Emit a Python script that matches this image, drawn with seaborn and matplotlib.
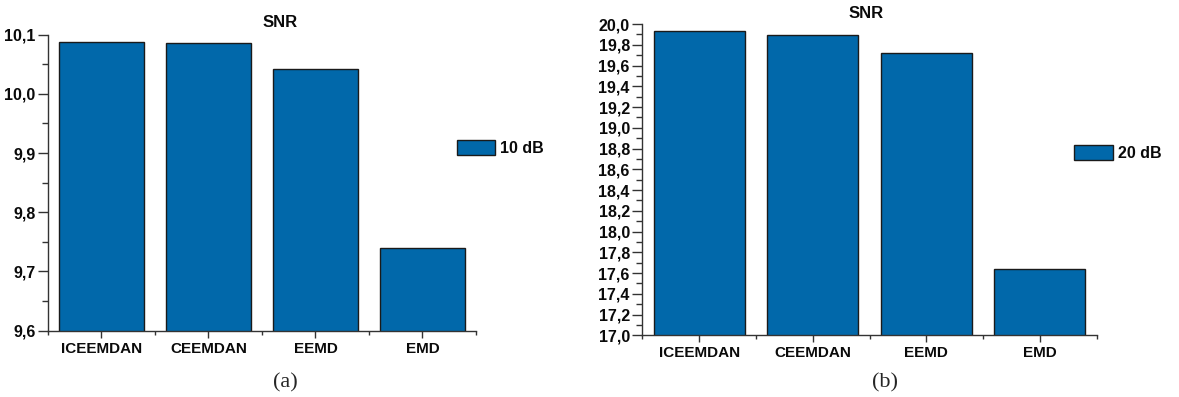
import matplotlib
matplotlib.use("Agg")
import matplotlib.pyplot as plt
from matplotlib.ticker import MultipleLocator, FuncFormatter, FixedLocator
import seaborn as sns
import pandas as pd

# Denoising results: output SNR per decomposition method
methods = ["ICEEMDAN", "CEEMDAN", "EEMD", "EMD"]
snr_10db = [10.087, 10.085, 10.041, 9.740]
snr_20db = [19.935, 19.894, 19.718, 17.637]
noise_labels = ["10 dB", "20 dB"]
panel_tags = ["(a)", "(b)"]

sns.set_theme(style="white")
plt.rcParams["font.family"] = ["Liberation Sans", "DejaVu Sans"]

BAR_COLOR = "#0168AA"
EDGE = "#1a1a1a"
AXIS_COLOR = "#333333"
TEXT = "#0a0a0a"

fig = plt.figure(figsize=(11.79, 3.97), dpi=100)
ax_a = fig.add_axes([0.0407, 0.167, 0.363, 0.746])
ax_b = fig.add_axes([0.5448, 0.1554, 0.3854, 0.784])


def comma(v, _pos):
    return f"{v:.1f}".replace(".", ",")


def draw_panel(ax, values, label, ylim, major, minor, title_xy, legend_anchor):
    df = pd.DataFrame({"method": methods, "snr": values})
    sns.barplot(data=df, x="method", y="snr", color=BAR_COLOR, width=0.8,
                edgecolor=EDGE, linewidth=1.0, saturation=1, label=label, ax=ax)
    ax.set_ylim(*ylim)
    ax.set_xlim(-0.5, len(methods) - 0.5)
    ax.set_xlabel("")
    ax.set_ylabel("")
    ax.yaxis.set_major_locator(MultipleLocator(major))
    ax.yaxis.set_minor_locator(MultipleLocator(minor))
    ax.yaxis.set_major_formatter(FuncFormatter(comma))
    ax.xaxis.set_minor_locator(FixedLocator([i - 0.5 for i in range(len(methods) + 1)]))
    for side in ("top", "right"):
        ax.spines[side].set_visible(False)
    for side in ("left", "bottom"):
        ax.spines[side].set_color(AXIS_COLOR)
        ax.spines[side].set_linewidth(1.0)
    ax.tick_params(axis="both", which="both", direction="out", color=AXIS_COLOR, width=1.0)
    ax.tick_params(axis="y", which="major", length=7, pad=2, labelsize=11.5)
    ax.tick_params(axis="y", which="minor", length=4)
    ax.tick_params(axis="x", which="major", length=5, pad=3, labelsize=11)
    ax.tick_params(axis="x", which="minor", length=3)
    ax.tick_params(left=True, bottom=True, which="both")
    for t in ax.get_xticklabels() + ax.get_yticklabels():
        t.set_fontweight("bold")
        t.set_color(TEXT)
    ax.text(title_xy[0], title_xy[1], "SNR", transform=ax.transAxes, ha="center",
            va="center", fontsize=12, fontweight="bold", color=TEXT)
    leg = ax.legend(loc="center left", bbox_to_anchor=legend_anchor, frameon=False,
                    fontsize=11.5, handlelength=2.4, handleheight=1.1,
                    handletextpad=0.3, borderaxespad=0, borderpad=0)
    for t in leg.get_texts():
        t.set_fontweight("bold")
        t.set_color(TEXT)


draw_panel(ax_a, snr_10db, noise_labels[0], (9.6, 10.1), 0.1, 0.05,
           (0.542, 1.042), (0.955, 0.618))
draw_panel(ax_b, snr_20db, noise_labels[1], (17.0, 20.0), 0.2, 0.1,
           (0.492, 1.034), (0.951, 0.587))

fig.text(285 / 1179, 1 - 383 / 397, panel_tags[0], ha="center", va="center",
         fontsize=16, family=["Liberation Serif", "DejaVu Serif"])
fig.text(885 / 1179, 1 - 383 / 397, panel_tags[1], ha="center", va="center",
         fontsize=16, family=["Liberation Serif", "DejaVu Serif"])

fig.savefig("out.png", dpi=100)
